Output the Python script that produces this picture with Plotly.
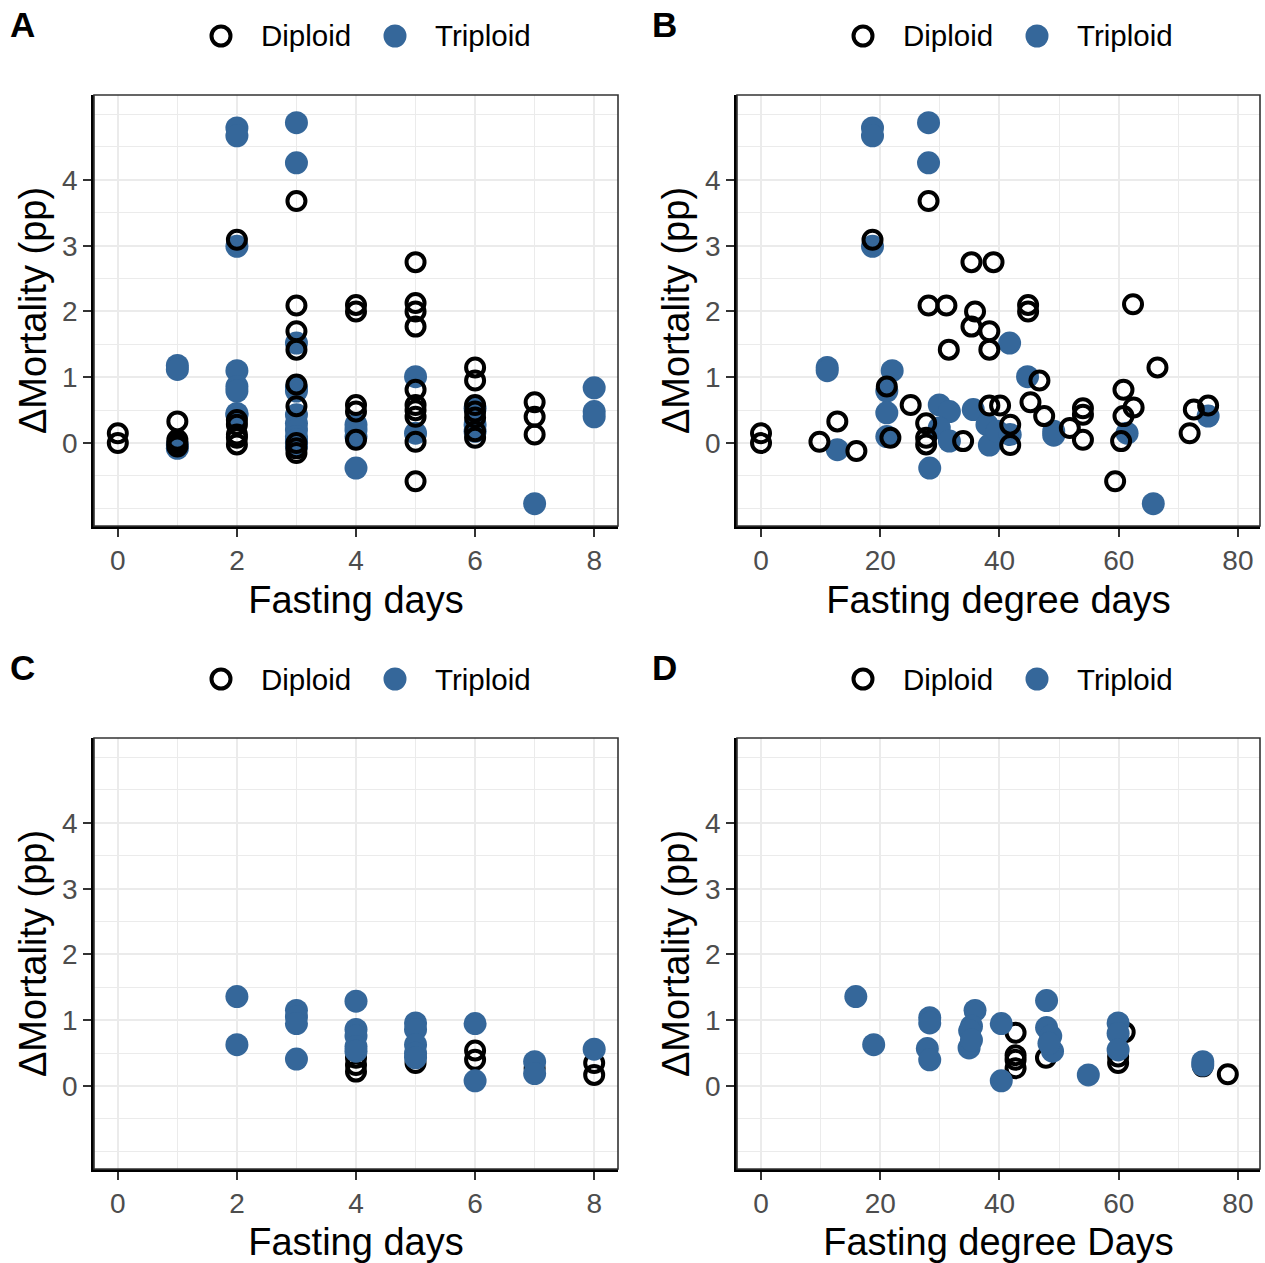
import plotly.graph_objects as go

# ---------------- data ----------------
# Panel A: Fasting days vs delta mortality
a_dip_x = [0, 0, 1, 1, 1, 1, 2, 2, 2, 2, 2, 2,
           3, 3, 3, 3, 3, 3, 3, 3, 3,
           4, 4, 4, 4, 4,
           5, 5, 5, 5, 5, 5, 5, 5, 5, 5,
           6, 6, 6, 6, 6, 6, 6,
           7, 7, 7]
a_dip_y = [0.15, 0.0, 0.33, 0.05, 0.0, -0.05, 3.09, 0.35, 0.28, 0.13, 0.08, -0.02,
           3.68, 2.09, 1.70, 1.42, 0.89, 0.56, 0.0, -0.08, -0.15,
           2.10, 2.00, 0.58, 0.48, 0.05,
           2.75, 2.13, 2.00, 1.77, 0.81, 0.58, 0.50, 0.40, 0.02, -0.58,
           1.15, 0.95, 0.58, 0.48, 0.39, 0.18, 0.08,
           0.62, 0.40, 0.13]
a_tri_x = [1, 1, 1, 1,
           2, 2, 2, 2, 2, 2, 2, 2,
           3, 3, 3, 3, 3, 3, 3, 3, 3, 3, 3, 3,
           4, 4, 4, 4,
           5, 5,
           6, 6, 6,
           7,
           8, 8, 8]
a_tri_y = [1.18, 1.12, -0.03, -0.08,
           4.79, 4.67, 2.99, 1.10, 0.86, 0.79, 0.45, 0.43,
           4.87, 4.26, 1.52, 0.84, 0.79, 0.43, 0.30, 0.20, 0.10, 0.05, 0.0, -0.05,
           0.28, 0.20, 0.10, -0.38,
           1.01, 0.15,
           0.53, 0.28, 0.18,
           -0.92,
           0.84, 0.48, 0.40]

# Panel B: Fasting degree days vs delta mortality
b_dip_x = [0, 0, 9.8, 12.8, 16.0, 18.7, 28.1, 28.1, 31.1, 35.3, 39.0, 35.9, 35.3,
           38.3, 38.3, 31.5, 44.8, 44.8, 62.4, 21.1, 21.7, 25.1, 27.7, 27.7, 27.7,
           33.9, 38.3, 40.1, 41.8, 41.8, 45.2, 46.7, 47.5, 51.8, 54.0, 54.0, 54.0,
           59.4, 60.8, 62.5, 60.8, 60.4, 66.5, 71.9, 72.6, 75.0]
b_dip_y = [0.15, 0.0, 0.02, 0.33, -0.12, 3.09, 3.68, 2.09, 2.09, 2.75, 2.75, 2.00, 1.77,
           1.70, 1.42, 1.42, 2.10, 2.00, 2.11, 0.86, 0.08, 0.58, 0.30, 0.08, -0.02,
           0.03, 0.57, 0.57, 0.28, -0.03, 0.62, 0.95, 0.41, 0.23, 0.53, 0.43, 0.05,
           -0.58, 0.81, 0.54, 0.41, 0.03, 1.15, 0.15, 0.51, 0.57]
b_tri_x = [11.1, 11.1, 12.8, 18.7, 18.7, 18.7, 28.1, 28.1, 28.3, 22.0, 21.1, 21.1, 21.1,
           29.9, 31.6, 29.9, 31.6, 35.6, 37.9, 38.3, 39.6, 41.7, 44.7, 41.8, 49.1, 49.1,
           61.4, 65.8, 75.0]
b_tri_y = [1.15, 1.10, -0.10, 4.79, 4.67, 2.99, 4.87, 4.26, -0.38, 1.10, 0.79, 0.46, 0.10,
           0.58, 0.48, 0.23, 0.03, 0.51, 0.28, -0.03, 0.18, 1.52, 1.01, 0.13, 0.18, 0.12,
           0.15, -0.92, 0.41]

# Panel C: Fasting days (second dataset)
c_dip_x = [4, 4, 4, 5, 6, 6, 7, 8, 8]
c_dip_y = [0.43, 0.32, 0.22, 0.35, 0.54, 0.40, 0.27, 0.35, 0.17]
c_tri_x = [2, 2, 3, 3, 3, 3, 4, 4, 4, 4, 4, 5, 5, 5, 5, 5, 6, 6, 7, 7, 8]
c_tri_y = [1.36, 0.63, 1.15, 1.05, 0.95, 0.41, 1.29, 0.86, 0.76, 0.60, 0.53,
           0.96, 0.86, 0.63, 0.50, 0.43, 0.95, 0.08, 0.37, 0.19, 0.56]

# Panel D: Fasting degree days (second dataset)
d_dip_x = [42.7, 42.7, 42.7, 42.7, 47.8, 61.0, 59.9, 59.9, 74.1, 78.3]
d_dip_y = [0.81, 0.47, 0.40, 0.27, 0.43, 0.82, 0.45, 0.35, 0.30, 0.18]
d_tri_x = [15.9, 18.9, 28.3, 28.3, 27.9, 28.3, 35.9, 35.3, 35.0, 34.9, 35.3, 40.3, 40.3,
           47.9, 47.9, 48.6, 48.9, 48.3, 54.9, 59.9, 59.9, 59.9, 74.1, 74.1]
d_tri_y = [1.36, 0.63, 1.04, 0.96, 0.57, 0.40, 1.15, 0.91, 0.84, 0.58, 0.70, 0.95, 0.08,
           1.30, 0.89, 0.76, 0.53, 0.65, 0.17, 0.96, 0.80, 0.55, 0.37, 0.32]

# tick labels / breaks
days_ticks = [0, 2, 4, 6, 8]
days_minor = [1, 3, 5, 7]
dd_ticks = [0, 20, 40, 60, 80]
dd_minor = [10, 30, 50, 70]
y_ticks = [0, 1, 2, 3, 4]
y_minor = [-1, -0.5, 0.5, 1.5, 2.5, 3.5, 4.5, 5]

legend_labels = ["Diploid", "Triploid"]
panel_tags = ["A", "B", "C", "D"]
x_titles = ["Fasting days", "Fasting degree days", "Fasting days", "Fasting degree Days"]
y_title = "ΔMortality (pp)"

# ---------------- styling ----------------
W, H = 1265, 1263
FONT = "Liberation Sans, Arial, sans-serif"
BLUE = "#35679A"
GRID = "#EBEBEB"

def px_x(p):
    return p / W

def px_y(p):
    return 1 - p / H

dom_x = {1: [px_x(94), px_x(618)], 2: [px_x(737), px_x(1260)],
         3: [px_x(94), px_x(618)], 4: [px_x(737), px_x(1260)]}
dom_y = {1: [px_y(526), px_y(95)], 2: [px_y(526), px_y(95)],
         3: [px_y(1169), px_y(738)], 4: [px_y(1169), px_y(738)]}

panels = [
    (a_dip_x, a_dip_y, a_tri_x, a_tri_y, "days", True),
    (b_dip_x, b_dip_y, b_tri_x, b_tri_y, "dd", True),
    (c_dip_x, c_dip_y, c_tri_x, c_tri_y, "days", False),
    (d_dip_x, d_dip_y, d_tri_x, d_tri_y, "dd", False),
]

fig = go.Figure()

def dip_trace(x, y, i):
    return go.Scatter(x=x, y=y, mode="markers", name=legend_labels[0], showlegend=False,
                      xaxis="x" if i == 1 else f"x{i}", yaxis="y" if i == 1 else f"y{i}",
                      marker=dict(symbol="circle-open", size=18, color="black",
                                  line=dict(width=4, color="black")))

def tri_trace(x, y, i):
    return go.Scatter(x=x, y=y, mode="markers", name=legend_labels[1], showlegend=False,
                      xaxis="x" if i == 1 else f"x{i}", yaxis="y" if i == 1 else f"y{i}",
                      marker=dict(symbol="circle", size=23, color=BLUE, line=dict(width=0)))

for i, (dx, dy, tx, ty, kind, dip_on_top) in enumerate(panels, start=1):
    if dip_on_top:
        fig.add_trace(tri_trace(tx, ty, i))
        fig.add_trace(dip_trace(dx, dy, i))
    else:
        fig.add_trace(dip_trace(dx, dy, i))
        fig.add_trace(tri_trace(tx, ty, i))

layout = dict(
    width=W, height=H, margin=dict(l=0, r=0, t=0, b=0),
    paper_bgcolor="white", plot_bgcolor="white",
    font=dict(family=FONT, color="black"),
    showlegend=False,
)

shapes = []
annotations = []
for i, (dx, dy, tx, ty, kind, _) in enumerate(panels, start=1):
    xs = "xaxis" if i == 1 else f"xaxis{i}"
    ys = "yaxis" if i == 1 else f"yaxis{i}"
    xa = "x" if i == 1 else f"x{i}"
    ya = "y" if i == 1 else f"y{i}"
    if kind == "days":
        xr, xt, xm = [-0.4, 8.4], days_ticks, days_minor
    else:
        xr, xt, xm = [-4.03, 83.7], dd_ticks, dd_minor
    common_axis = dict(
        showline=True, linecolor="black", linewidth=2.5, mirror=False,
        ticks="outside", ticklen=8, tickwidth=2, tickcolor="#333333",
        tickfont=dict(size=28, color="#4D4D4D", family=FONT),
        showgrid=True, gridcolor=GRID, gridwidth=2, zeroline=False,
    )
    layout[xs] = dict(common_axis, domain=dom_x[i], anchor=ya, range=xr,
                      tickmode="array", tickvals=xt, ticktext=[str(v) for v in xt],
                      minor=dict(tickmode="array", tickvals=xm, showgrid=True,
                                 gridcolor=GRID, gridwidth=1, ticks=""),
                      title=dict(text=x_titles[i - 1], font=dict(size=38, family=FONT, color="black"),
                                 standoff=12))
    layout[ys] = dict(common_axis, domain=dom_y[i], anchor=xa, range=[-1.26, 5.29],
                      tickmode="array", tickvals=y_ticks, ticktext=[str(v) for v in y_ticks],
                      minor=dict(tickmode="array", tickvals=y_minor, showgrid=True,
                                 gridcolor=GRID, gridwidth=1, ticks=""),
                      title=dict(text=y_title, font=dict(size=38, family=FONT, color="black"),
                                 standoff=4))
    # panel border (grey20)
    shapes.append(dict(type="rect", xref=f"{xa} domain", yref=f"{ya} domain",
                       x0=0, x1=1, y0=0, y1=1, line=dict(color="#333333", width=1.6),
                       fillcolor="rgba(0,0,0,0)", layer="above"))

# legends (manual, one per panel) and panel tags
offsets = {1: (0, 0), 2: (642, 0), 3: (0, 643), 4: (642, 643)}
for i in range(1, 5):
    ox, oy = offsets[i]
    cy = 36 + oy
    # diploid key
    shapes.append(dict(type="circle", xref="paper", yref="paper", xsizemode="pixel", ysizemode="pixel",
                       xanchor=px_x(221 + ox), yanchor=px_y(cy), x0=-9.5, x1=9.5, y0=-9.5, y1=9.5,
                       line=dict(color="black", width=4), fillcolor="white"))
    # triploid key
    shapes.append(dict(type="circle", xref="paper", yref="paper", xsizemode="pixel", ysizemode="pixel",
                       xanchor=px_x(395 + ox), yanchor=px_y(cy), x0=-11.5, x1=11.5, y0=-11.5, y1=11.5,
                       line=dict(color=BLUE, width=0), fillcolor=BLUE))
    annotations.append(dict(text=legend_labels[0], x=px_x(259 + ox), y=px_y(cy), xref="paper", yref="paper",
                            xanchor="left", yanchor="middle", showarrow=False,
                            font=dict(size=29.5, family=FONT, color="black")))
    annotations.append(dict(text=legend_labels[1], x=px_x(433 + ox), y=px_y(cy), xref="paper", yref="paper",
                            xanchor="left", yanchor="middle", showarrow=False,
                            font=dict(size=29.5, family=FONT, color="black")))
    annotations.append(dict(text=f"<b>{panel_tags[i - 1]}</b>", x=px_x(8 + ox), y=px_y(25 + oy),
                            xref="paper", yref="paper", xanchor="left", yanchor="middle",
                            showarrow=False, font=dict(size=35, family=FONT, color="black")))

layout["shapes"] = shapes
layout["annotations"] = annotations
fig.update_layout(**layout)

fig.write_html("out.html")
